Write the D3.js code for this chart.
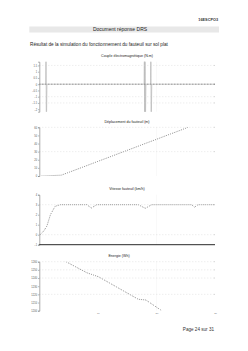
<!DOCTYPE html>
<html><head><meta charset="utf-8">
<script src="https://cdn.jsdelivr.net/npm/d3@7"></script>
<style>
html,body{margin:0;padding:0;background:#fff;}
svg{display:block;font-family:"Liberation Sans",Arial,sans-serif;}
</style></head>
<body>
<svg id="c" width="248" height="351"></svg>
<script>
// ---------- data ----------
const docCode = "16ESCPO3";
const bandTitle = "Document réponse DRS";
const subtitle = "Résultat de la simulation du fonctionnement du fauteuil sur sol plat";
const pageLabel = "Page 24 sur 31";

const chartTitles = ["Couple électromagnétique (N.m)", "Déplacement du fauteuil (m)", "Vitesse fauteuil (km/h)", "Energie (Wh)"];
const timeDomain = [0, 30];
const timeTicks = [10, 20, 30];

// chart 1 : couple (spikes)
const c1Time  = [0, 1.1, 1.15, 1.2, 1.3, 17.9, 17.95, 18.0, 18.05, 18.1, 18.2, 19.0, 19.05, 19.1, 19.2, 30];
const c1Value = [0, 0,   4,   -4,   0,   0,    4,     -4,   4,     -4,   0,    0,    4,     -4,   0,    0];
const c1Domain = [-2.2, 1.8];
const c1Ticks = [1.5, 1, 0.5, 0, -0.5, -1, -1.5, -2];
const c1Grid = [1.5, 0, -1, -1.5];

// chart 2 : déplacement
const c2Time  = [0.4, 1, 2, 3, 3.75, 6, 8, 10, 12, 14, 16, 18, 20, 22, 24, 25.4];
const c2Value = [0, 0.1, 0.4, 0.8, 1.0, 7.1, 12.5, 18, 23.4, 28.9, 34.3, 39.8, 45.2, 50.7, 56.1, 60];
const c2Domain = [0, 60];
const c2Ticks = [0, 10, 20, 30, 40, 50, 60];
const c2Grid = [60, 30];

// chart 3 : vitesse
const c3Time  = [0.15, 0.8, 1.3, 1.9, 2.7, 3.6, 8.1, 8.9, 9.8, 16.9, 18.1, 19.2, 26.0, 26.5, 27.1, 30];
const c3Value = [0, 0.4, 0.87, 2.0, 2.84, 3.0, 3.0, 2.67, 3.0, 3.0, 2.64, 3.0, 3.0, 2.75, 3.0, 3.0];
const c3Domain = [-1, 4];
const c3Ticks = [-1, 0, 1, 2, 3, 4];
const c3Grid = [3, 0];

// chart 4 : énergie
const c4Time  = [4.3, 8.1, 10.1, 16.9, 18.2, 20.9];
const c4Value = [1261, 1246.5, 1241.6, 1214, 1213.1, 1200];
const c4Domain = [1200, 1260];
const c4Ticks = [1200, 1210, 1220, 1230, 1240, 1250, 1260];
const c4Grid = [1260, 1250, 1240, 1220];

// ---------- drawing ----------
const svg = d3.select("#c");

svg.append("text").attr("x", 218).attr("y", 20.5).attr("text-anchor", "end")
  .attr("font-size", 3.8).attr("font-weight", "bold").attr("fill", "#333").text(docCode);

svg.append("rect").attr("x", 29.3).attr("y", 26.5).attr("width", 189.7).attr("height", 6)
  .attr("fill", "#e8e8e8");
svg.append("text").attr("x", 120).attr("y", 31.4).attr("text-anchor", "middle")
  .attr("font-size", 5).attr("fill", "#222").text(bandTitle);

svg.append("text").attr("x", 30).attr("y", 46).attr("font-size", 4.7).attr("fill", "#222").text(subtitle);

svg.append("text").attr("x", 214).attr("y", 330.8).attr("text-anchor", "end")
  .attr("font-size", 4.6).attr("fill", "#333").text(pageLabel);

const left = 39.3, right = 215;
const x = d3.scaleLinear().domain(timeDomain).range([left, right]);

const charts = [
  {title: chartTitles[0], t: c1Time, v: c1Value, dom: c1Domain, ticks: c1Ticks, grid: c1Grid, top: 61.7, bottom: 111.7, titleX: 127, bottomAxis: false, xLabels: false, stroke: "#bbb", dash: null, gridColor: "#888"},
  {title: chartTitles[1], t: c2Time, v: c2Value, dom: c2Domain, ticks: c2Ticks, grid: c2Grid, top: 127.3, bottom: 176, titleX: 127, bottomAxis: false, xLabels: false, stroke: "#000", dash: "0.7,1.3", gridColor: "#ccc"},
  {title: chartTitles[2], t: c3Time, v: c3Value, dom: c3Domain, ticks: c3Ticks, grid: c3Grid, top: 194.7, bottom: 244.7, titleX: 127, bottomAxis: true, xLabels: false, stroke: "#000", dash: "0.7,1.3", gridColor: "#ccc"},
  {title: chartTitles[3], t: c4Time, v: c4Value, dom: c4Domain, ticks: c4Ticks, grid: c4Grid, top: 261.7, bottom: 310.7, titleX: 119, bottomAxis: false, xLabels: true, stroke: "#000", dash: "0.7,1.3", gridColor: "#ccc"}
];

charts.forEach((c, i) => {
  const y = d3.scaleLinear().domain(c.dom).range([c.bottom, c.top]);
  const g = svg.append("g");

  g.append("clipPath").attr("id", "clip" + i).append("rect")
    .attr("x", left).attr("y", c.top).attr("width", right - left).attr("height", c.bottom - c.top);

  g.append("text").attr("x", c.titleX).attr("y", c.top - 4.3).attr("text-anchor", "middle")
    .attr("font-size", 3.6).attr("fill", "#222").text(c.title);

  // vertical light gridline
  g.append("line").attr("x1", x(20)).attr("x2", x(20)).attr("y1", c.top).attr("y2", c.bottom)
    .attr("stroke", "#f0f0f0").attr("stroke-width", 0.5);

  // series
  const line = d3.line().x((d, k) => x(c.t[k])).y(d => y(d));
  const p = g.append("path").attr("d", line(c.v)).attr("clip-path", `url(#clip${i})`)
    .attr("fill", "none").attr("stroke", c.stroke).attr("stroke-width", c.dash ? 0.6 : 0.8);
  if (c.dash) p.attr("stroke-dasharray", c.dash);

  // gridlines
  g.selectAll(".gl").data(c.grid).join("line")
    .attr("x1", left).attr("x2", right - 2).attr("y1", d => y(d)).attr("y2", d => y(d))
    .attr("stroke", d => (i === 0 && d === 0) ? "#222" : "#ccc").attr("stroke-width", 0.5).attr("stroke-dasharray", "1,2");
  g.selectAll(".gt").data(c.grid).join("line")
    .attr("x1", right - 1.5).attr("x2", right).attr("y1", d => y(d)).attr("y2", d => y(d))
    .attr("stroke", d => (i === 0 && d === 0) ? "#222" : "#aaa").attr("stroke-width", 0.5);

  // y axis
  const ax = d3.axisLeft(y).tickValues(c.ticks).tickSize(1.2).tickPadding(1).tickFormat(d3.format(""));
  const ag = g.append("g").attr("transform", `translate(${left},0)`).call(ax);
  ag.select(".domain").attr("stroke", "#888").attr("stroke-width", 0.7);
  ag.selectAll(".tick line").attr("stroke", "#666").attr("stroke-width", 0.5);
  ag.selectAll(".tick text").attr("font-size", 2.6).attr("fill", "#555").attr("font-family", "Liberation Sans, Arial, sans-serif");

  if (c.bottomAxis) {
    g.append("line").attr("x1", left).attr("x2", right).attr("y1", c.bottom).attr("y2", c.bottom)
      .attr("stroke", "#111").attr("stroke-width", 0.9);
  }
  if (c.xLabels) {
    const xa = d3.axisBottom(x).tickValues(timeTicks).tickSize(0).tickPadding(2).tickFormat(d3.format(""));
    const xg = g.append("g").attr("transform", `translate(0,${c.bottom})`).call(xa);
    xg.select(".domain").remove();
    xg.selectAll(".tick text").attr("font-size", 2.4).attr("fill", "#777").attr("font-family", "Liberation Sans, Arial, sans-serif");
  }
});
</script>
</body></html>
